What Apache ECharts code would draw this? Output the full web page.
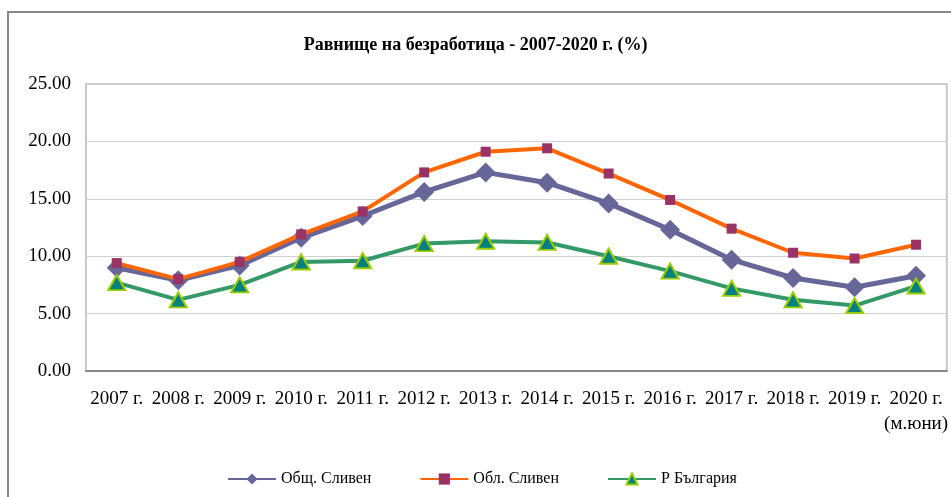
<!DOCTYPE html>
<html><head><meta charset="utf-8">
<script src="https://cdn.jsdelivr.net/npm/echarts@6/dist/echarts.min.js"></script>
<style>html,body{margin:0;padding:0;background:#fff}#c{width:951px;height:497px}</style>
</head><body><div id="c"></div>
<script>
const categories = ["2007 г.","2008 г.","2009 г.","2010 г.","2011 г.","2012 г.","2013 г.","2014 г.","2015 г.","2016 г.","2017 г.","2018 г.","2019 г.","2020 г.\n(м.юни)"];
const obshtSliven = [9.0, 7.9, 9.2, 11.6, 13.5, 15.6, 17.3, 16.4, 14.6, 12.3, 9.7, 8.1, 7.3, 8.3];
const oblSliven = [9.4, 8.0, 9.5, 11.9, 13.9, 17.3, 19.1, 19.4, 17.2, 14.9, 12.4, 10.3, 9.8, 11.0];
const bulgaria = [7.7, 6.2, 7.5, 9.5, 9.6, 11.1, 11.3, 11.2, 10.0, 8.7, 7.2, 6.2, 5.7, 7.4];
const seriesNames = ["Общ. Сливен", "Обл. Сливен", "Р България"];
const titleText = "Равнище на безработица - 2007-2020 г. (%)";

const FONT = "'Liberation Serif', 'Times New Roman', serif";
const chart = echarts.init(document.getElementById('c'));
chart.setOption({
  animation: false,
  backgroundColor: '#fff',
  graphic: [{
    type: 'rect', shape: {x: 8, y: 12, width: 960, height: 500},
    style: {fill: 'none', stroke: '#888', lineWidth: 2}, silent: true, z: -1
  }],
  title: {
    text: titleText, left: 'center', top: 31,
    textStyle: {fontFamily: FONT, fontSize: 18, fontWeight: 'bold', color: '#000'}
  },
  grid: {left: 86, top: 84, right: 3, bottom: 126, show: true, borderColor: '#c8c8c8', borderWidth: 2, containLabel: false},
  legend: {
    bottom: 5, left: 222, itemWidth: 48, itemHeight: 14, itemGap: 48,
    textStyle: {fontFamily: FONT, fontSize: 16, color: '#000'},
    data: seriesNames
  },
  xAxis: {
    type: 'category', data: categories, boundaryGap: true,
    axisLine: {lineStyle: {color: '#888', width: 2}},
    axisTick: {show: false},
    axisLabel: {fontFamily: FONT, fontSize: 19, color: '#000', margin: 16, lineHeight: 25, interval: 0}
  },
  yAxis: {
    type: 'value', min: 0, max: 25, interval: 5,
    axisLine: {show: true, lineStyle: {color: '#c8c8c8', width: 2}},
    axisTick: {show: false},
    splitLine: {lineStyle: {color: '#d0d0d0', width: 1}},
    axisLabel: {fontFamily: FONT, fontSize: 19, color: '#000', margin: 15, formatter: v => v.toFixed(2)}
  },
  series: [
    {name: seriesNames[0], type: 'line', data: obshtSliven, symbol: 'diamond', symbolSize: 20,
     lineStyle: {color: '#666699', width: 5}, itemStyle: {color: '#666699'}, z: 2},
    {name: seriesNames[1], type: 'line', data: oblSliven, symbol: 'rect', symbolSize: 10,
     lineStyle: {color: '#FF6600', width: 4}, itemStyle: {color: '#993366'}, z: 3},
    {name: seriesNames[2], type: 'line', data: bulgaria, symbol: 'triangle', symbolSize: [17, 15],
     lineStyle: {color: '#339966', width: 4}, itemStyle: {color: '#008080', borderColor: '#99CC00', borderWidth: 2}, z: 4}
  ]
});
</script></body></html>
